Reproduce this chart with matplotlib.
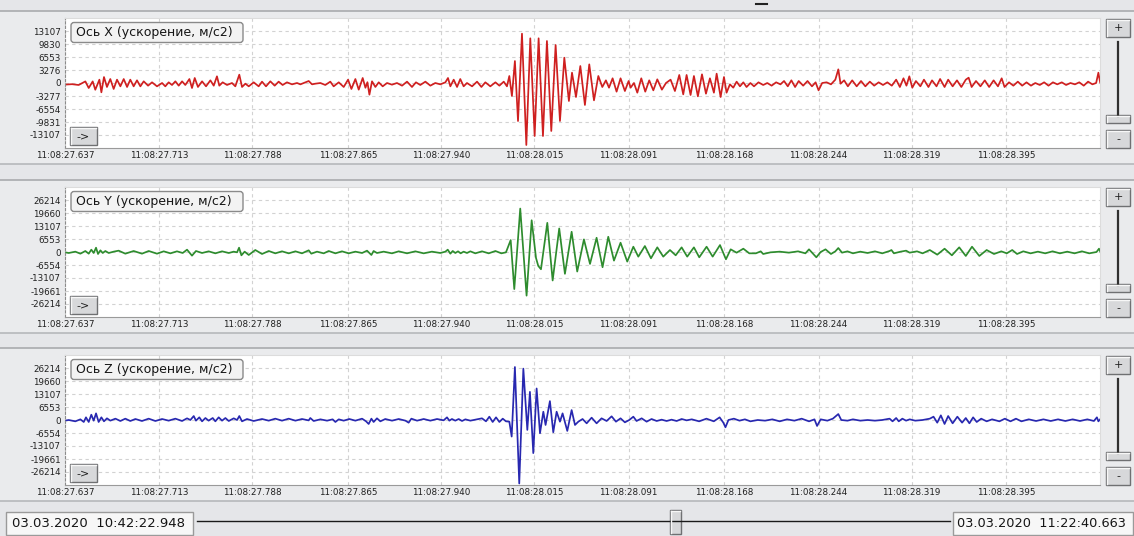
import matplotlib
matplotlib.use("Agg")
import numpy as np
import matplotlib.pyplot as plt
from matplotlib.patches import Rectangle, FancyBboxPatch

W, H = 1134, 536
BG = "#e5e6e9"
PANEL_BG = "#eaebed"

START = 27.637
SPAN_MS = 833.7

X_PRE = [(0, -400), (5.7, -300), (11.0, -500), (16.4, 400), (19.1, -1260), (22.3, 400), (24.4, -1700),
         (27.7, 840), (29.3, -2350), (31.4, 1500), (33.8, -1000), (36.5, 1000), (39.2, -1500), (41.9, 840),
         (44.6, -840), (47.3, 1000), (50.0, -1000), (52.6, 840), (55.3, -840), (58.0, 670), (60.7, -840),
         (63.4, 420), (66.9, -670), (70.1, 170), (74.1, -840), (78.2, 0), (80.8, -840), (83.5, 170),
         (86.2, -500), (88.9, 420), (91.6, -670), (94.3, 420), (96.9, -500), (100.2, 1000), (102.3, -1260),
         (104.5, 1260), (107.1, -1000), (110.4, 420), (113.6, -840), (117.1, 670), (119.8, -670),
         (122.4, 1680), (124.3, -670), (127.0, 170), (130.5, -500), (134.5, 0), (137.2, -840),
         (140.4, 2100), (142.6, -1000), (145.3, -170), (148.0, -840), (152.0, 170), (156.0, -840),
         (158.7, 340), (161.9, -840), (165.4, 420), (168.9, -670), (172.1, 340), (175.3, -500),
         (178.8, 170), (182.9, -340), (186.9, 0), (189.6, -340), (193.6, 170), (196.3, 500), (199.0, -340),
         (201.7, -170), (205.7, 0), (209.7, -500), (213.7, 340), (216.4, -840), (220.5, 170), (224.5, -1000),
         (228.0, 840), (230.7, -1500), (233.9, 1000), (236.6, -1680), (239.8, 1260), (242.0, -1200),
         (243.6, 200), (245.2, -2940), (247.3, 420), (250.0, -1000), (252.7, 170), (255.9, -840),
         (259.4, 0), (263.4, -420), (267.4, 0), (271.5, -670), (275.5, 340), (279.5, -1000), (282.7, 170),
         (286.2, -500), (290.3, 340), (294.3, -670), (298.3, 0), (302.3, -340), (306.4, 170), (308.5, 1260),
         (310.4, -840), (313.1, 840), (315.8, -1000), (318.4, 1000), (321.1, -840), (323.8, 0),
         (327.9, -840), (331.9, 340), (335.4, -1000), (338.6, 170), (342.6, -840), (346.7, 170),
         (349.9, -670), (353.4, 340), (356.0, -840)]
X_BURST = [(357.9, 1760), (360.0, -3280), (362.4, 5540), (364.9, -9580), (368.1, 12430), (371.6, -15620),
           (374.8, 11260), (378.3, -13360), (381.5, 11260), (385.0, -13360), (388.2, 10580), (391.7, -12100),
           (395.2, 9580), (398.7, -9580), (402.2, 6380), (405.9, -4540), (408.4, 2600), (411.6, -3530),
           (415.1, 4280), (418.8, -5540), (422.3, 4700), (426.1, -4370), (429.6, 1760), (432.8, -1010),
           (435.7, 670), (438.2, -1180), (441.1, 1180), (444.3, -2180), (447.5, 1180), (451.0, -2020),
           (454.0, 500), (455.6, -1180), (458.3, 0), (461.0, -2440), (464.2, 1180), (467.4, -2180),
           (470.6, 670), (473.9, -1850), (477.1, 920), (480.8, -1680), (484.1, 0), (487.8, 840),
           (491.3, -2020), (494.8, 2020), (498.0, -2860), (500.7, 2020), (503.9, -3020), (506.6, 1760),
           (509.8, -3360), (513.1, 2180), (516.3, -2690), (519.5, 1180), (522.7, -2440), (524.9, 2350),
           (528.1, -3530), (530.8, 1510), (532.9, -2440), (535.6, -340), (538.3, -1180), (541.0, 340),
           (543.7, -840), (546.4, 170), (549.0, -1010)]
X_POST = [(552.1, 0), (555.0, -840), (558.6, 170), (562.4, -500), (565.7, 0), (569.2, -670), (572.8, 170),
          (576.3, -340), (579.2, 500), (582.2, -840), (585.1, 670), (588.1, -1010), (591.0, 500),
          (594.6, -670), (598.1, 500), (601.7, -840), (604.6, 170), (607.0, -1850), (609.9, 0), (613.5, 170),
          (617.0, -340), (620.5, 840), (622.9, 3440), (624.7, -170), (627.6, 670), (630.6, -840),
          (634.1, 670), (637.7, -840), (641.2, 500), (644.7, -840), (648.3, 340), (651.8, -670),
          (655.4, 170), (658.9, -500), (662.4, 170), (666.0, -670), (669.5, 840), (672.5, -1010),
          (675.4, 1180), (677.8, -670), (680.1, 1680), (682.5, -1180), (685.4, 500), (689.0, -840),
          (691.9, 840), (695.5, -1010), (698.4, 670), (702.0, -840), (704.9, 1010), (708.5, -1010),
          (711.4, 840), (715.0, -840), (718.5, 670), (722.0, -1010), (725.6, 840), (727.9, 1340),
          (730.3, -1010), (733.8, 500), (737.4, -840), (740.9, 670), (744.4, -1010), (748.0, 670),
          (751.5, -840), (754.5, 1180), (756.8, -1010), (760.4, 170), (763.9, -670), (767.5, 340),
          (771.0, -670), (774.5, 170), (778.1, -670), (781.6, 0), (785.2, -500), (788.7, 170), (792.2, -670),
          (795.8, 170), (799.3, -340), (802.9, 170), (806.4, -500), (809.9, 0), (813.5, -340), (817.0, 170),
          (820.6, -670), (824.1, 340), (827.6, -340), (830.6, 0), (832.4, 2600), (833.8, 170)]

Y_PRE = [(0, -170), (3.0, -500), (8.3, 170), (12.4, -840), (16.4, 500), (19.1, -840), (21.2, 1170),
         (23.1, -500), (25.0, 2170), (26.6, -1000), (28.5, 840), (30.4, -500), (32.5, 500), (35.2, -500),
         (39.2, 170), (43.2, 670), (48.6, -840), (55.3, 500), (62.0, -840), (67.4, 500), (74.1, -840),
         (79.5, 330), (84.9, -670), (90.2, 330), (94.8, -500), (98.3, 1170), (102.3, -1840), (105.5, 500),
         (110.4, -500), (115.7, 330), (121.1, -670), (126.5, 330), (131.9, -500), (135.9, 170),
         (138.6, -170), (140.2, 2170), (142.1, -1670), (144.7, 170), (148.0, -1500), (153.3, 1000),
         (158.7, -1000), (164.1, 500), (169.4, -670), (174.8, 330), (180.2, -670), (185.6, 330),
         (190.9, -670), (196.3, 840), (198.4, -840), (203.0, 170), (208.4, -670), (212.4, 500),
         (217.8, -670), (223.1, 330), (228.5, -670), (233.9, 170), (239.3, -500), (243.3, 670),
         (246.8, -1500), (248.6, 500), (251.3, -500), (256.7, 170), (263.4, -670), (268.8, 330),
         (275.5, -670), (282.2, 330), (288.9, -670), (295.6, 170), (302.3, -500), (306.4, 170),
         (308.3, 1170), (310.4, -840), (312.3, 500), (314.4, -500), (316.6, 330), (318.7, -670),
         (321.1, 170), (323.8, -500), (326.5, 330), (330.5, -670), (335.9, 330), (341.3, -670),
         (346.7, 500), (351.5, -670), (355.2, -170)]
Y_BURST = [(359.0, 6000), (361.9, -18700), (366.7, 21900), (371.8, -22000), (375.9, 16000), (379.4, -3000),
           (381.2, -7000), (383.4, -8700), (388.5, 14700), (392.8, -14360), (398.1, 11860), (402.7, -11000),
           (408.1, 10200), (412.6, -9850), (418.0, 6350), (422.9, -6000), (428.2, 7180), (433.0, -7680),
           (437.6, 7680), (442.2, -4340), (447.5, 4680), (452.9, -4840), (457.8, 2670), (461.8, -2340),
           (467.1, 3000), (472.0, -3170), (477.1, 2340), (481.9, -2340), (487.3, 1000), (491.9, -1670),
           (496.7, 2340), (501.2, -2340), (506.6, 2340), (510.9, -2670), (516.8, 2670), (521.7, -2340),
           (527.6, 3500), (532.4, -3670), (536.2, 1340), (541.0, -340), (546.4, 1670), (551.2, -670)]
Y_POST = [(556.5, -670), (560.4, 330), (562.4, -1000), (568.3, -170), (575.7, 170), (583.1, -330),
          (590.5, 330), (596.4, -670), (599.3, 1340), (602.8, -1000), (605.2, -2670), (608.7, 0),
          (612.6, 1340), (617.0, -1000), (620.5, 330), (622.9, 2000), (625.9, -330), (630.3, 330),
          (634.7, -670), (640.6, 170), (646.5, -500), (652.4, 330), (658.3, -670), (664.2, 500),
          (665.7, 1000), (667.7, -670), (673.1, 170), (677.5, 670), (680.4, -330), (686.3, 330),
          (690.8, -670), (696.6, 1000), (702.6, -1340), (708.5, 1670), (714.4, -1670), (720.3, 2340),
          (725.6, -2000), (730.6, 2670), (736.5, -2000), (742.4, 1000), (748.3, -1000), (754.2, 330),
          (758.6, -670), (763.0, 1000), (766.9, -1000), (771.9, 330), (777.8, -670), (783.7, 170),
          (789.6, -670), (795.5, 330), (801.4, -670), (807.3, 170), (813.2, -670), (819.1, 330),
          (825.0, -670), (830.9, 0), (832.9, 1670), (833.8, 330)]

Z_PRE = [(0, -330), (3.0, 0), (8.3, -670), (12.4, 330), (15.1, -1000), (16.9, 1340), (19.1, -1000),
         (21.2, 2670), (23.1, -330), (25.0, 3340), (27.1, -1000), (29.3, 1340), (31.4, -670), (33.8, 840),
         (36.5, -330), (40.6, 670), (44.6, -500), (48.6, 670), (52.6, -500), (56.7, 500), (62.0, -500),
         (67.4, 670), (72.8, -500), (78.2, 500), (83.5, -330), (88.9, 670), (94.3, -500), (98.3, 840),
         (101.0, 0), (103.7, 2000), (105.5, -330), (108.2, 1340), (110.4, -670), (113.1, 1000),
         (115.7, -330), (119.0, 1000), (121.1, -670), (123.8, 1340), (126.5, -330), (129.2, 1000),
         (131.9, -500), (135.9, 840), (138.6, 0), (140.4, 2000), (142.6, -670), (146.6, 500), (152.0, -500),
         (158.7, 500), (164.1, -330), (169.4, 670), (174.8, -330), (180.2, 670), (185.6, -330),
         (190.9, 500), (196.3, -200), (197.6, 1000), (200.3, -500), (205.7, 330), (211.1, -330),
         (215.6, 330), (217.8, -1000), (220.5, 330), (224.5, -330), (229.0, 500), (233.9, -330),
         (239.3, 670), (242.5, -670), (244.6, -2000), (246.8, 670), (248.6, -1000), (251.3, 840),
         (254.0, -670), (258.0, 500), (263.4, -330), (268.8, 500), (274.2, -330), (276.8, -1340),
         (279.0, 670), (283.6, -330), (288.9, 500), (294.3, -330), (299.7, 500), (305.0, -170),
         (307.7, 1340), (309.6, -330), (311.7, 500), (314.4, -330), (317.1, 500), (319.8, -500),
         (322.5, 330), (326.5, -330), (331.9, 330), (335.9, 840), (339.1, -670), (341.8, 1670),
         (344.5, -1000), (347.2, 1340), (349.9, -1000), (352.6, 670), (355.2, -670)]
Z_BURST = [(357.9, -830), (359.8, -8350), (362.4, 26700), (365.9, -32000), (369.2, 25900), (372.4, -5000),
           (374.5, 14200), (377.2, -16700), (379.9, 15900), (382.6, -6680), (385.3, 4180), (387.1, -2500),
           (390.6, 9520), (393.3, -6180), (396.0, 4180), (398.7, -840), (400.8, 3340), (404.6, -5500),
           (408.1, 5000), (410.8, -2500), (413.5, -840), (416.9, 500), (420.2, -1670), (424.2, 1170),
           (428.2, -1670), (432.2, 840), (436.3, -500), (440.3, 1840), (443.8, -840), (447.5, 840),
           (451.0, -1170), (454.5, 0), (457.8, 1670), (460.4, -500), (464.5, 840), (468.5, -840),
           (472.5, 500), (476.6, -500), (480.6, 170), (484.6, -500), (488.6, 170), (492.7, -500),
           (496.7, 500), (500.7, -170)]
Z_POST = [(504.9, 330), (510.8, -670), (516.7, 670), (522.6, -670), (527.3, 1340), (530.3, -1340),
          (532.0, -3670), (534.4, 0), (538.8, 670), (543.3, -330), (547.7, 330), (552.1, -670), (558.0, 0),
          (563.9, -330), (569.8, 330), (575.7, -670), (581.6, 330), (587.5, -330), (593.4, 670),
          (599.3, -670), (603.7, 330), (605.8, -3000), (608.7, 330), (614.1, -330), (618.5, 670),
          (622.9, 3000), (625.3, 0), (630.3, -330), (634.7, 330), (640.6, -330), (646.5, 0), (652.4, -330),
          (658.3, 0), (664.2, 670), (666.6, -670), (669.5, 1000), (671.6, -670), (674.5, 670),
          (677.5, -330), (680.4, 330), (684.9, -330), (690.8, 0), (696.6, 670), (699.6, 1670),
          (702.6, -1340), (705.5, 2340), (708.5, -2000), (711.4, 2000), (715.0, -1670), (718.8, 1670),
          (722.6, -1340), (725.6, 1000), (728.5, -1670), (731.5, 1340), (734.4, -1000), (738.0, 670),
          (742.4, -670), (746.8, 330), (752.7, -670), (757.1, 670), (761.6, -670), (766.0, 670),
          (770.4, -670), (776.3, 330), (782.2, -500), (788.1, 330), (794.0, -500), (799.9, 330),
          (805.8, -500), (811.7, 330), (817.6, -500), (823.5, 330), (828.8, -500), (831.2, 1340),
          (832.4, -670), (833.8, 330)]

X_TICK_LABELS = ["11:08:27.637", "11:08:27.713", "11:08:27.788", "11:08:27.865", "11:08:27.940",
                 "11:08:28.015", "11:08:28.091", "11:08:28.168", "11:08:28.244", "11:08:28.319",
                 "11:08:28.395"]
Y_TICKS_X = ["13107", "9830", "6553", "3276", "0", "-3277", "-6554", "-9831", "-13107"]
Y_TICKS_YZ = ["26214", "19660", "13107", "6553", "0", "-6554", "-13107", "-19661", "-26214"]

PANELS = [
    ("Ось X (ускорение, м/с2)", X_PRE + X_BURST + X_POST, "#cf2020", Y_TICKS_X, 16384, (11, 164), (18, 148)),
    ("Ось Y (ускорение, м/с2)", Y_PRE + Y_BURST + Y_POST, "#2e8c2e", Y_TICKS_YZ, 32768, (180, 333), (187, 317)),
    ("Ось Z (ускорение, м/с2)", Z_PRE + Z_BURST + Z_POST, "#2828b0", Y_TICKS_YZ, 32768, (348, 501), (355, 485)),
]

DATE_LEFT = "03.03.2020  10:42:22.948"
DATE_RIGHT = "03.03.2020  11:22:40.663"


def button(ax, x0, y0, w, h, label, size=8):
    ax.add_patch(Rectangle((x0, y0), w, h, facecolor="#d7d8da", edgecolor="#6f7072", lw=1))
    ax.plot([x0 + 1, x0 + w - 1], [y0 + 1, y0 + 1], color="#f7f7f7", lw=1)
    ax.plot([x0 + 1, x0 + 1], [y0 + 1, y0 + h - 1], color="#f7f7f7", lw=1)
    if label:
        ax.text(x0 + w / 2, y0 + h / 2, label, ha="center", va="center", fontsize=size, color="#202020")


fig = plt.figure(figsize=(W / 100, H / 100), dpi=100, facecolor=BG)

back = fig.add_axes([0, 0, 1, 1], zorder=0)
back.set_xlim(0, W)
back.set_ylim(H, 0)
back.axis("off")

top = fig.add_axes([0, 0, 1, 1], zorder=5)
top.set_xlim(0, W)
top.set_ylim(H, 0)
top.axis("off")
top.patch.set_alpha(0)

grad = np.linspace(0, 1, 64)[None, :]
for title, pts, color, ylabels, lim, (c_top, c_bot), (p_top, p_bot) in PANELS:
    # серая подложка панели
    back.add_patch(Rectangle((0, c_top), W, c_bot - c_top, facecolor=PANEL_BG, edgecolor="none"))
    back.imshow(grad, extent=(0, 64, c_bot, c_top), cmap="Greys_r", vmin=-4, vmax=1.3,
                aspect="auto", alpha=0.45)
    back.plot([0, W], [c_top, c_top], color="#a9abae", lw=1.2)
    back.plot([0, W], [c_bot, c_bot], color="#b6b8bb", lw=1.2)

    ax = fig.add_axes([65 / W, 1 - p_bot / H, 1035 / W, (p_bot - p_top) / H], zorder=2)
    ax.set_facecolor("white")
    ms, vals = zip(*pts)
    ax.plot([START + t / 1000 for t in ms], vals, color=color, lw=1.25, solid_joinstyle="round")
    ax.set_xlim(START, START + SPAN_MS / 1000)
    ax.set_ylim(-lim, lim)
    ax.set_xticks([float(s.split(":")[-1]) for s in X_TICK_LABELS])
    ax.set_xticklabels(X_TICK_LABELS)
    ax.set_yticks([int(s) for s in ylabels])
    ax.set_yticklabels(ylabels)
    ax.grid(True, color="#d2d2d2", linestyle=(0, (3, 3)), lw=0.8)
    ax.tick_params(length=0, labelsize=6.3, colors="#202020", pad=3)
    ax.tick_params(axis="x", pad=2.5)
    for side in ("top", "right"):
        ax.spines[side].set_color("#dcdcdc")
        ax.spines[side].set_linewidth(0.8)
    ax.spines["left"].set_color("#8c8c8c")
    ax.spines["left"].set_linestyle((0, (2, 2)))
    ax.spines["bottom"].set_color("#9a9a9a")

    # подпись оси в рамке
    top.add_patch(FancyBboxPatch((71, p_top + 4.5), 172, 20, boxstyle="round,pad=0,rounding_size=3",
                                 facecolor="#f3f3f3", edgecolor="#8a8a8a", lw=1))
    top.text(76, p_top + 14.5, title, ha="left", va="center", fontsize=9, color="#151515")

    button(top, 70, p_bot - 21, 27, 18, "->", size=8)

    # масштаб справа
    button(top, 1106, p_top + 1, 24, 18, "+", size=8)
    top.plot([1118, 1118], [p_top + 24, p_top + 98], color="#303030", lw=1.6)
    button(top, 1106, p_top + 97, 24, 8, "")
    button(top, 1106, p_bot - 18, 24, 18, "-", size=8)

# нижняя полоса с датами и ползунком
top.add_patch(Rectangle((6, 512), 187, 23, facecolor="#f7f7f7", edgecolor="#9a9a9a", lw=1))
top.text(12, 523.5, DATE_LEFT, ha="left", va="center", fontsize=9.5, color="#151515")
top.plot([197, 950], [521, 521], color="#1a1a1a", lw=1)
button(top, 670, 510, 11, 24, "")
top.add_patch(Rectangle((953, 512), 180, 23, facecolor="#f7f7f7", edgecolor="#9a9a9a", lw=1))
top.text(957, 523.5, DATE_RIGHT, ha="left", va="center", fontsize=9.3, color="#151515")
top.plot([756, 767], [4, 4], color="#222222", lw=1.5)

fig.savefig("out.png", dpi=100, facecolor=BG)
